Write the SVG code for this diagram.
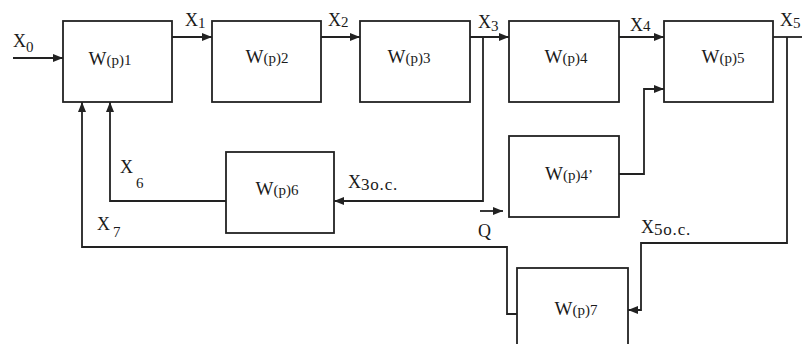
<svg xmlns="http://www.w3.org/2000/svg" width="802" height="344" viewBox="0 0 802 344">
<defs>
<style>
.box{fill:#fff;stroke:#222;stroke-width:1.8}
.ln{fill:none;stroke:#222;stroke-width:1.8}
.arr{marker-end:url(#ah)}
text{font-family:"Liberation Serif","Times New Roman",serif;fill:#1a1a1a}
.w{font-size:19px}
.s{font-size:15px}
.x{font-size:18px}
.xs{font-size:15px}
.oc{font-size:17px;letter-spacing:0.8px}
</style>
<marker id="ah" viewBox="0 0 10 8" refX="10" refY="4" markerWidth="10" markerHeight="8" markerUnits="userSpaceOnUse" orient="auto">
<path d="M0,0 L10,4 L0,8 z" fill="#222"/>
</marker>
</defs>
<rect width="802" height="344" fill="#fff"/>
<g id="connectors">
<path class="ln arr" d="M13,58 H63"/>
<path class="ln arr" d="M172,37 H212"/>
<path class="ln arr" d="M321,37 H360"/>
<path class="ln arr" d="M470,37 H509"/>
<path class="ln arr" d="M619,37 H664"/>
<path class="ln" d="M773,37 H802"/>
<path class="ln arr" d="M483,37 V201 H334"/>
<path class="ln arr" d="M226,201 H110 V102"/>
<path class="ln arr" d="M517,314 H507 V247 H82 V102"/>
<path class="ln arr" d="M619,174 H644 V89 H664"/>
<path class="ln arr" d="M787,37 V243 H641 V310 H628"/>
<path class="ln arr" d="M480,211 H503"/>
</g>
<g id="W1"><rect class="box" x="63" y="21" width="109" height="81"/><text x="110" y="65" text-anchor="middle"><tspan class="w">W</tspan><tspan class="s">(p)1</tspan></text></g>
<g id="W2"><rect class="box" x="212" y="21" width="109" height="81"/><text x="267" y="63" text-anchor="middle"><tspan class="w">W</tspan><tspan class="s">(p)2</tspan></text></g>
<g id="W3"><rect class="box" x="360" y="21" width="110" height="81"/><text x="409" y="63" text-anchor="middle"><tspan class="w">W</tspan><tspan class="s">(p)3</tspan></text></g>
<g id="W4"><rect class="box" x="509" y="21" width="110" height="81"/><text x="566" y="63" text-anchor="middle"><tspan class="w">W</tspan><tspan class="s">(p)4</tspan></text></g>
<g id="W5"><rect class="box" x="664" y="21" width="109" height="81"/><text x="723" y="63" text-anchor="middle"><tspan class="w">W</tspan><tspan class="s">(p)5</tspan></text></g>
<g id="W4p"><rect class="box" x="509" y="136" width="110" height="81"/><text x="569" y="180" text-anchor="middle"><tspan class="w">W</tspan><tspan class="s">(p)4’</tspan></text></g>
<g id="W6"><rect class="box" x="226" y="152" width="108" height="81"/><text x="277" y="195" text-anchor="middle"><tspan class="w">W</tspan><tspan class="s">(p)6</tspan></text></g>
<g id="W7"><rect class="box" x="517" y="268" width="111" height="84"/><text x="576" y="315" text-anchor="middle"><tspan class="w">W</tspan><tspan class="s">(p)7</tspan></text></g>
<g id="labels">
<text x="13" y="47"><tspan class="x">X</tspan><tspan class="xs" dy="5">0</tspan></text>
<text x="185" y="26"><tspan class="x">X</tspan><tspan class="xs" dy="2">1</tspan></text>
<text x="328" y="26"><tspan class="x">X</tspan><tspan class="xs" dy="1">2</tspan></text>
<text x="478" y="28"><tspan class="x">X</tspan><tspan class="xs" dy="3">3</tspan></text>
<text x="630" y="31"><tspan class="x">X</tspan><tspan class="xs">4</tspan></text>
<text x="780" y="26"><tspan class="x">X</tspan><tspan class="xs" dy="2">5</tspan></text>
<text x="120" y="173"><tspan class="x">X</tspan><tspan class="xs" dx="3" dy="15">6</tspan></text>
<text x="97" y="230"><tspan class="x">X</tspan><tspan class="xs" dx="3" dy="7">7</tspan></text>
<text x="348" y="188"><tspan class="x">X</tspan><tspan class="oc" dy="2">3o.c.</tspan></text>
<text x="641" y="233"><tspan class="x">X</tspan><tspan class="oc" dy="2">5o.c.</tspan></text>
<text class="x" x="478" y="237">Q</text>
</g>
</svg>
